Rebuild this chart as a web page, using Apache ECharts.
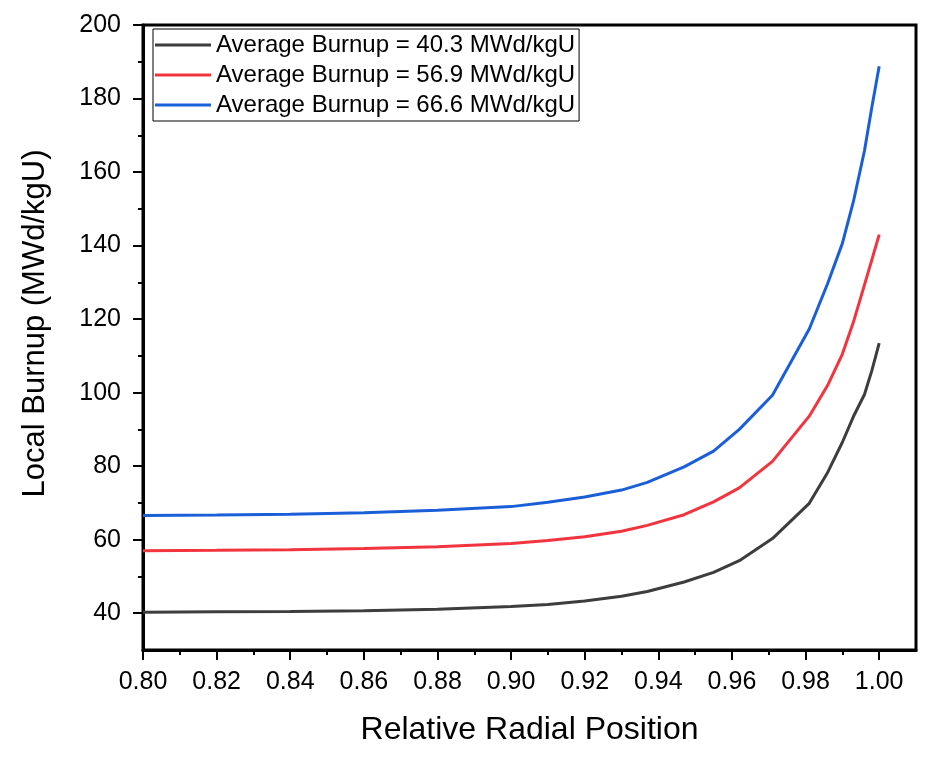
<!DOCTYPE html>
<html>
<head>
<meta charset="utf-8">
<script src="https://cdn.jsdelivr.net/npm/echarts@6/dist/echarts.min.js"></script>
<style>
html, body { margin: 0; padding: 0; background: #ffffff; }
#chart { width: 937px; height: 765px; }
</style>
</head>
<body>
<div id="chart"></div>
<script>
// ---- data ----
const radialPosition = [0.80, 0.82, 0.84, 0.86, 0.88, 0.90, 0.91, 0.92, 0.93, 0.937, 0.947, 0.955, 0.962, 0.971, 0.981, 0.986, 0.990, 0.993, 0.996, 0.998, 1.00];
const burnup403 = [40.3, 40.4, 40.5, 40.7, 41.1, 41.8, 42.4, 43.3, 44.6, 45.9, 48.5, 51.1, 54.3, 60.3, 69.9, 78.3, 86.5, 93.5, 99.5, 106, 113.5];
const burnup569 = [57.0, 57.1, 57.3, 57.6, 58.1, 59.0, 59.8, 60.8, 62.3, 63.9, 66.8, 70.3, 74.1, 81.3, 93.6, 102, 110.5, 119.2, 129.3, 136.1, 143];
const burnup666 = [66.6, 66.7, 66.9, 67.3, 68.0, 69.0, 70.2, 71.6, 73.5, 75.6, 79.8, 84.1, 90.0, 99.3, 117.3, 129.7, 140.6, 152, 165.8, 177.6, 188.8];
const seriesNames = ['Average Burnup = 40.3 MWd/kgU', 'Average Burnup = 56.9 MWd/kgU', 'Average Burnup = 66.6 MWd/kgU'];
const xMajorTicks = [0.80, 0.82, 0.84, 0.86, 0.88, 0.90, 0.92, 0.94, 0.96, 0.98, 1.00];
const xMinorTicks = [0.81, 0.83, 0.85, 0.87, 0.89, 0.91, 0.93, 0.95, 0.97, 0.99];
const yMajorTicks = [40, 60, 80, 100, 120, 140, 160, 180, 200];
const yMinorTicks = [50, 70, 90, 110, 130, 150, 170, 190];

const FONT = '"Liberation Sans", Arial, sans-serif';
const colors = ['#3d3d3d', '#f2343f', '#1b5fd8'];

function pairs(ys) { return radialPosition.map((x, i) => [x, ys[i]]); }

const chart = echarts.init(document.getElementById('chart'), null, { renderer: 'canvas' });

const xBase = { type: 'value', min: 0.80, max: 1.01, gridIndex: 0, position: 'bottom', splitLine: { show: false } };
const yBase = { type: 'value', min: 30, max: 200, gridIndex: 0, position: 'left', splitLine: { show: false } };

chart.setOption({
  backgroundColor: '#ffffff',
  animation: false,
  color: colors,
  grid: {
    left: 143, right: 21, top: 25, bottom: 115,
    show: true, borderColor: '#000', borderWidth: 3, backgroundColor: 'transparent'
  },
  legend: {
    orient: 'vertical',
    left: 153, top: 29,
    padding: [4, 4, 4, 2],
    itemGap: 6,
    icon: 'rect',
    itemWidth: 56, itemHeight: 3,
    borderColor: '#000', borderWidth: 1,
    backgroundColor: '#fff',
    textStyle: { fontFamily: FONT, fontSize: 24, color: '#000' },
    data: seriesNames
  },
  xAxis: [
    Object.assign({}, xBase, {
      name: 'Relative Radial Position',
      nameLocation: 'middle', nameGap: 64,
      nameTextStyle: { fontFamily: FONT, fontSize: 32, color: '#000' },
      axisLine: { show: true, onZero: false, lineStyle: { color: '#000', width: 3 } },
      axisTick: { show: true, inside: false, length: 10, lineStyle: { color: '#000', width: 2 }, customValues: xMajorTicks },
      axisLabel: { show: true, margin: 20, fontFamily: FONT, fontSize: 25, color: '#000', customValues: xMajorTicks, formatter: v => v.toFixed(2) }
    }),
    Object.assign({}, xBase, {
      axisLine: { show: false, onZero: false },
      axisTick: { show: true, inside: false, length: 5, lineStyle: { color: '#000', width: 2 }, customValues: xMinorTicks },
      axisLabel: { show: false }
    })
  ],
  yAxis: [
    Object.assign({}, yBase, {
      name: 'Local Burnup (MWd/kgU)',
      nameLocation: 'middle', nameGap: 92,
      nameTextStyle: { fontFamily: FONT, fontSize: 31, color: '#000', padding: [0, 0, 0, 28] },
      axisLine: { show: true, onZero: false, lineStyle: { color: '#000', width: 3 } },
      axisTick: { show: true, inside: false, length: 10, lineStyle: { color: '#000', width: 2 }, customValues: yMajorTicks },
      axisLabel: { show: true, margin: 22, fontFamily: FONT, fontSize: 25, color: '#000', customValues: yMajorTicks }
    }),
    Object.assign({}, yBase, {
      axisLine: { show: false, onZero: false },
      axisTick: { show: true, inside: false, length: 5, lineStyle: { color: '#000', width: 2 }, customValues: yMinorTicks },
      axisLabel: { show: false }
    })
  ],
  series: [burnup403, burnup569, burnup666].map((ys, i) => ({
    name: seriesNames[i],
    type: 'line',
    xAxisIndex: 0, yAxisIndex: 0,
    data: pairs(ys),
    symbol: 'none',
    showSymbol: false,
    smooth: false,
    lineStyle: { width: 3, color: colors[i] },
    itemStyle: { color: colors[i] },
    z: 3
  }))
});
</script>
</body>
</html>
